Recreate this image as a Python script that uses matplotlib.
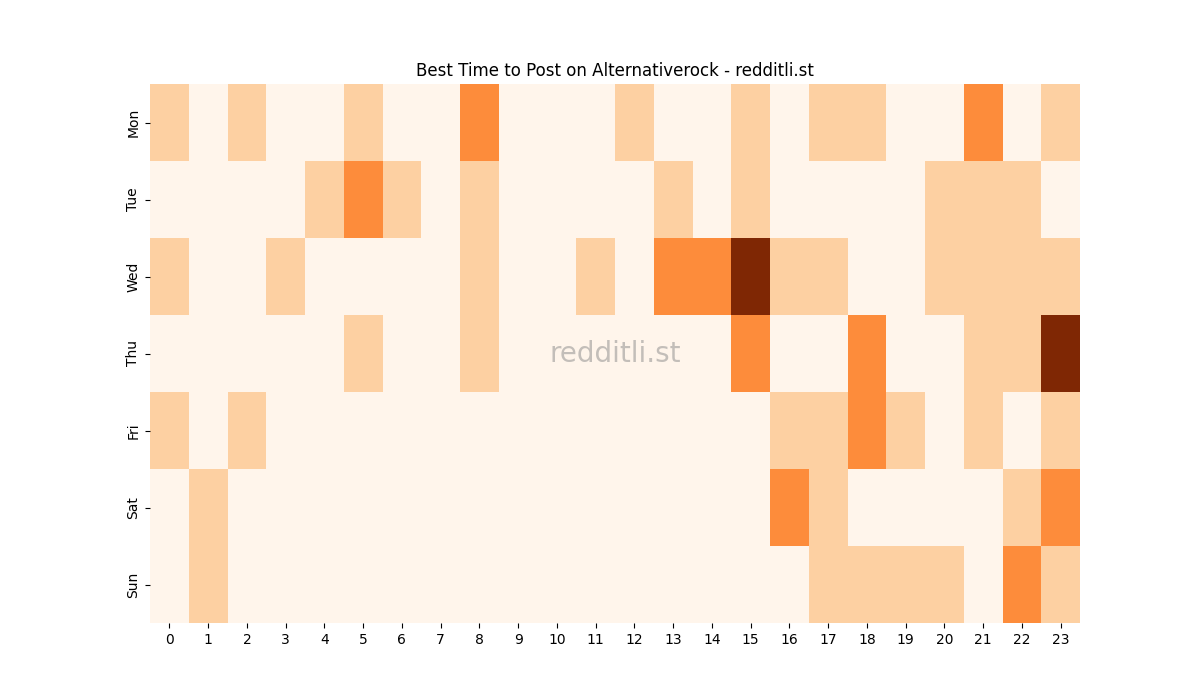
import matplotlib
matplotlib.use("Agg")
import matplotlib.pyplot as plt
import seaborn as sns
import numpy as np

days = ["Mon", "Tue", "Wed", "Thu", "Fri", "Sat", "Sun"]
hours = list(range(24))
mon = [1,0,1,0,0,1,0,0,2,0,0,0,1,0,0,1,0,1,1,0,0,2,0,1]
tue = [0,0,0,0,1,2,1,0,1,0,0,0,0,1,0,1,0,0,0,0,1,1,1,0]
wed = [1,0,0,1,0,0,0,0,1,0,0,1,0,2,2,4,1,1,0,0,1,1,1,1]
thu = [0,0,0,0,0,1,0,0,1,0,0,0,0,0,0,2,0,0,2,0,0,1,1,4]
fri = [1,0,1,0,0,0,0,0,0,0,0,0,0,0,0,0,1,1,2,1,0,1,0,1]
sat = [0,1,0,0,0,0,0,0,0,0,0,0,0,0,0,0,2,1,0,0,0,0,1,2]
sun = [0,1,0,0,0,0,0,0,0,0,0,0,0,0,0,0,0,1,1,1,1,0,2,1]

data = np.array([mon, tue, wed, thu, fri, sat, sun])

fig, ax = plt.subplots(figsize=(12, 7), dpi=100)
sns.heatmap(data, cmap="Oranges", vmin=0, vmax=4, cbar=False, ax=ax,
            xticklabels=hours, yticklabels=days)
ax.set_title("Best Time to Post on Alternativerock - redditli.st")
ax.text(0.5, 0.5, "redditli.st", transform=ax.transAxes, ha="center", va="center",
        fontsize=20, color="#888888", alpha=0.5)
plt.yticks(rotation=90, va="center")
plt.xticks(rotation=0)
fig.savefig("out.png")
